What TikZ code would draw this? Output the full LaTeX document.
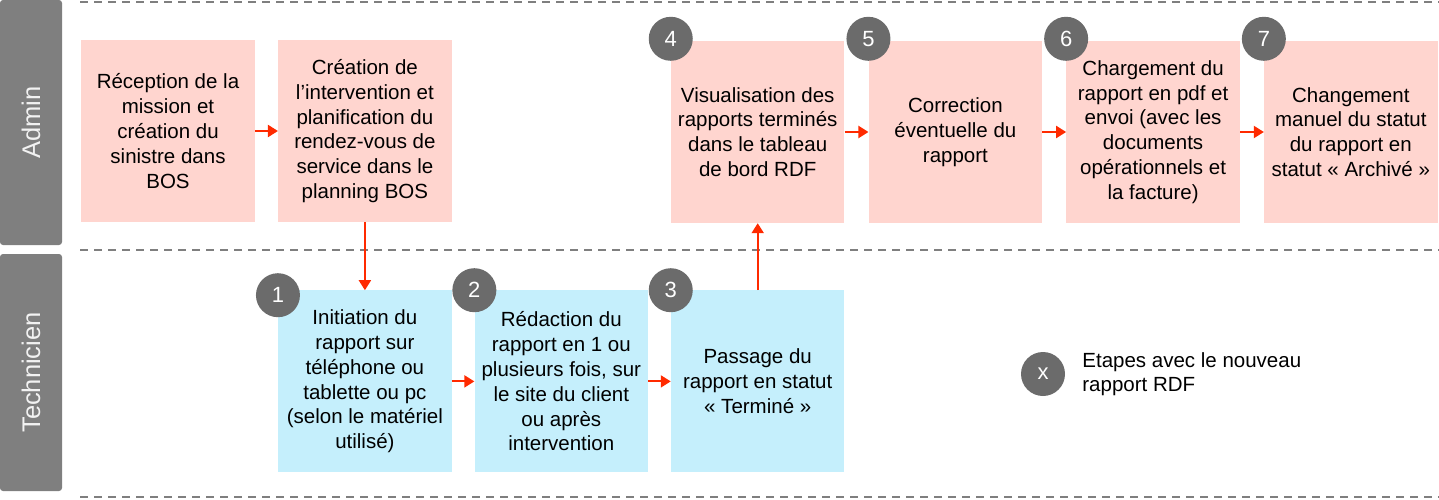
\documentclass[tikz,border=0pt]{standalone}
\usepackage{fontspec}
\setmainfont{Liberation Sans}
\usepackage{xcolor}
\usepackage{tikz}
\usetikzlibrary{arrows.meta,positioning}
\definecolor{FlowPink}{HTML}{FFD5CF}
\definecolor{FlowBlue}{HTML}{C5EFFC}
\definecolor{FlowGray}{HTML}{6B6B6B}
\definecolor{FlowLane}{HTML}{7F7F7F}
\definecolor{FlowRed}{HTML}{FF2A00}
\tikzset{
  box/.style={align=center, inner sep=0pt, minimum width=173.5pt,
              minimum height=182pt,
              font=\fontsize{20.5}{24.8}\selectfont},
  adminbox/.style={box, fill=FlowPink},
  techbox/.style={box, fill=FlowBlue},
  badge/.style={circle, fill=FlowGray, text=white, inner sep=0pt,
                minimum size=44pt, font=\fontsize{22}{22}\selectfont},
  lane/.style={rounded corners=3pt, fill=FlowLane, text=white!95!black,
               rotate=90, minimum height=62pt, inner sep=0pt,
               font=\fontsize{25.5}{25.5}\selectfont},
  lanesep/.style={draw=FlowLane, line width=2pt, dash pattern=on 8pt off 6pt},
  flow/.style={-{Triangle[length=10pt, width=12pt]}, line width=2pt, draw=FlowRed}
}
\begin{document}
\begin{tikzpicture}[x=1pt, y=-1pt, node distance=23pt]
  \useasboundingbox (0,0) rectangle (1439,500);
  % lanes
  \node[lane, minimum width=245pt] (admin) at (31,122.5) {Admin};
  \node[lane, minimum width=237pt] (tech) at (31,372.5) {Technicien};
  \coordinate (top) at (80,2);
  \coordinate (mid) at (80,250);
  \coordinate (bot) at (80,497);
  \draw[lanesep] (top) -- (1439,2);
  \draw[lanesep] (mid) -- (1439,250);
  \draw[lanesep] (bot) -- (1439,497);

  % steps
  \node[adminbox] (reception) at (168,131) {R\'eception de la\\mission et\\cr\'eation du\\sinistre dans\\BOS};
  \node[adminbox, right=of reception] (creation) {Cr\'eation de\\l'intervention et\\planification du\\rendez-vous de\\service dans le\\planning BOS};
  \node[techbox, below=68pt of creation] (initiation) {Initiation du\\rapport sur\\t\'el\'ephone ou\\tablette ou pc\\(selon le mat\'eriel\\utilis\'e)};
  \node[techbox, right=22.5pt of initiation] (redaction) {R\'edaction du\\rapport en 1 ou\\plusieurs fois, sur\\le site du client\\ou apr\`es\\intervention};
  \node[techbox, right=22.5pt of redaction] (passage) {Passage du\\rapport en statut\\«~Termin\'e~»};
  \node[adminbox, above=67pt of passage] (visu) {Visualisation des\\rapports termin\'es\\dans le tableau\\de bord RDF};
  \node[adminbox, right=23.8pt of visu] (correction) {Correction\\\'eventuelle du\\rapport};
  \node[adminbox, right=23.8pt of correction] (chargement) {Chargement du\\rapport en pdf et\\envoi (avec les\\documents\\op\'erationnels et\\la facture)};
  \node[adminbox, right=23.8pt of chargement] (archive) {Changement\\manuel du statut\\du rapport en\\statut «~Archiv\'e~»};

  % numbers
  \node[badge] (n1) at ([yshift=-5pt]initiation.north west) {1};
  \node[badge] (n2) at (redaction.north west) {2};
  \node[badge] (n3) at (passage.north west) {3};
  \node[badge] (n4) at ([yshift=2pt]visu.north west) {4};
  \node[badge] (n5) at ([yshift=2pt]correction.north west) {5};
  \node[badge] (n6) at ([yshift=2pt]chargement.north west) {6};
  \node[badge] (n7) at ([yshift=2pt]archive.north west) {7};

  \draw[flow] (reception) -- (creation);
  \draw[flow] (creation) -- (initiation);
  \draw[flow] (initiation) -- (redaction);
  \draw[flow] (redaction) -- (passage);
  \draw[flow] (passage) -- (visu);
  \draw[flow] (visu) -- (correction);
  \draw[flow] (correction) -- (chargement);
  \draw[flow] (chargement) -- (archive);

  % legend
  \node[badge] (key) at (1043,374) {x};
  \node[right=17pt of key, align=left, inner sep=0pt,
        font=\fontsize{20.5}{24}\selectfont] (keytext) {Etapes avec le nouveau\\rapport RDF};
\end{tikzpicture}
\end{document}
